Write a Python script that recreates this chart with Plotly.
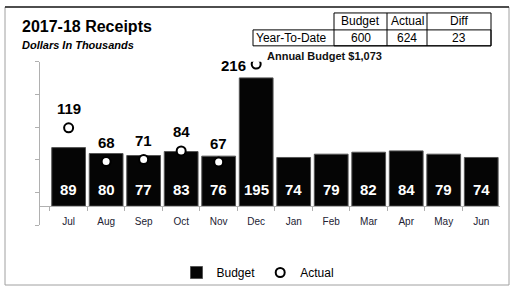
import plotly.graph_objects as go

months = ["Jul", "Aug", "Sep", "Oct", "Nov", "Dec", "Jan", "Feb", "Mar", "Apr", "May", "Jun"]
budget = [89, 80, 77, 83, 76, 195, 74, 79, 82, 84, 79, 74]
actual_months = ["Jul", "Aug", "Sep", "Oct", "Nov", "Dec"]
actual = [119, 68, 71, 84, 67, 216]

table_header = ["", "Budget", "Actual", "Diff"]
table_row = ["Year-To-Date", "600", "624", "23"]
annual_budget = "Annual Budget $1,073"

W, H = 514, 287
def px(x):
    return x / W
def py(y):
    return 1 - y / H

SANS = "Liberation Sans, Arial"

fig = go.Figure()

fig.add_trace(go.Bar(
    x=months, y=budget, name="Budget",
    marker=dict(color="#050505", line=dict(color="#555555", width=1)),
    hoverinfo="skip",
))
fig.add_trace(go.Scatter(
    x=actual_months, y=actual, name="Actual", mode="markers",
    marker=dict(symbol="circle", size=9, color="white", line=dict(color="black", width=2)),
    hoverinfo="skip",
))

annotations = []
for m, v in zip(months, budget):
    annotations.append(dict(x=m, y=0, xref="x", yref="y", text=str(v), showarrow=False,
                            yshift=17, yanchor="middle",
                            font=dict(family=SANS, size=15, color="white", weight="bold")))
for m, v in zip(actual_months, actual):
    if m == "Dec":
        annotations.append(dict(x=m, y=v, xref="x", yref="y", text=str(v), showarrow=False,
                                xshift=-23, yshift=-1, yanchor="middle",
                                font=dict(family=SANS, size=15, color="black", weight="bold")))
    else:
        annotations.append(dict(x=m, y=v, xref="x", yref="y", text=str(v), showarrow=False,
                                yshift=19, yanchor="middle",
                                font=dict(family=SANS, size=15, color="black", weight="bold")))

annotations += [
    dict(x=px(20), y=py(26.5), xref="paper", yref="paper", xanchor="left", yanchor="middle",
         text="<b>2017-18 Receipts</b>", showarrow=False,
         font=dict(family=SANS, size=16, color="black")),
    dict(x=px(20), y=py(45.5), xref="paper", yref="paper", xanchor="left", yanchor="middle",
         text="<b><i>Dollars In Thousands</i></b>", showarrow=False,
         font=dict(family=SANS, size=11, color="black")),
    dict(x=px(265), y=py(56), xref="paper", yref="paper", xanchor="left", yanchor="middle",
         text="<b>" + annual_budget + "</b>", showarrow=False,
         font=dict(family=SANS, size=11, color="#111111")),
]

# small summary table (top right)
col_edges = [253, 334, 387, 427, 491]
row_edges = [13, 30, 46]
shapes = [
    dict(type="rect", xref="paper", yref="paper", x0=px(5), x1=px(509), y0=py(286), y1=py(7),
         line=dict(color="#a0a0a0", width=1)),
    dict(type="line", xref="paper", yref="paper", x0=px(5), x1=px(509), y0=py(7), y1=py(7),
         line=dict(color="#222222", width=1.5)),
    dict(type="rect", xref="paper", yref="paper", x0=px(col_edges[1]), x1=px(col_edges[4]),
         y0=py(row_edges[2]), y1=py(row_edges[0]), line=dict(color="black", width=1)),
    dict(type="rect", xref="paper", yref="paper", x0=px(col_edges[0]), x1=px(col_edges[4]),
         y0=py(row_edges[2]), y1=py(row_edges[1]), line=dict(color="black", width=1)),
]
for ce in col_edges[2:4]:
    shapes.append(dict(type="line", xref="paper", yref="paper", x0=px(ce), x1=px(ce),
                       y0=py(row_edges[2]), y1=py(row_edges[0]), line=dict(color="black", width=1)))
for i in range(4):
    cx = (col_edges[i] + col_edges[i + 1]) / 2
    if table_header[i]:
        annotations.append(dict(x=px(cx), y=py((row_edges[0] + row_edges[1]) / 2), xref="paper", yref="paper",
                                text=table_header[i], showarrow=False, xanchor="center", yanchor="middle",
                                font=dict(family=SANS, size=12, color="black")))
    if i == 0:
        annotations.append(dict(x=px(col_edges[0] + 1), y=py((row_edges[1] + row_edges[2]) / 2), xref="paper", yref="paper",
                                text=table_row[i], showarrow=False, xanchor="left", yanchor="middle",
                                font=dict(family=SANS, size=12, color="black")))
    else:
        annotations.append(dict(x=px(cx), y=py((row_edges[1] + row_edges[2]) / 2), xref="paper", yref="paper",
                                text=table_row[i], showarrow=False, xanchor="center", yanchor="middle",
                                font=dict(family=SANS, size=12, color="black")))

fig.update_layout(
    width=W, height=H,
    margin=dict(l=0, r=0, t=0, b=0),
    paper_bgcolor="white", plot_bgcolor="white",
    bargap=0.1,
    showlegend=True,
    legend=dict(orientation="h", x=px(258), xanchor="center", y=py(273), yanchor="middle",
                font=dict(family=SANS, size=12, color="black"), itemwidth=30,
                bgcolor="rgba(0,0,0,0)"),
    xaxis=dict(domain=[px(40), px(500)], anchor="free", position=py(207),
               showline=True, linecolor="#b0b0b0", linewidth=1,
               ticks="outside", tickson="boundaries", ticklen=4, tickcolor="#b0b0b0",
               ticklabelstandoff=6,
               tickfont=dict(family=SANS, size=10, color="#222233"),
               showgrid=False, zeroline=False, fixedrange=True),
    yaxis=dict(domain=[py(226), py(62)], range=[-29, 219.5],
               tick0=-29, dtick=248.5 / 5,
               showline=True, linecolor="#b0b0b0", linewidth=1,
               ticks="outside", ticklen=4, tickcolor="#b0b0b0",
               showticklabels=False, showgrid=False, zeroline=False, fixedrange=True),
    annotations=annotations,
    shapes=shapes,
)

fig.write_html("out.html", config={"displayModeBar": False},
               post_script="document.body.style.margin='0';")
